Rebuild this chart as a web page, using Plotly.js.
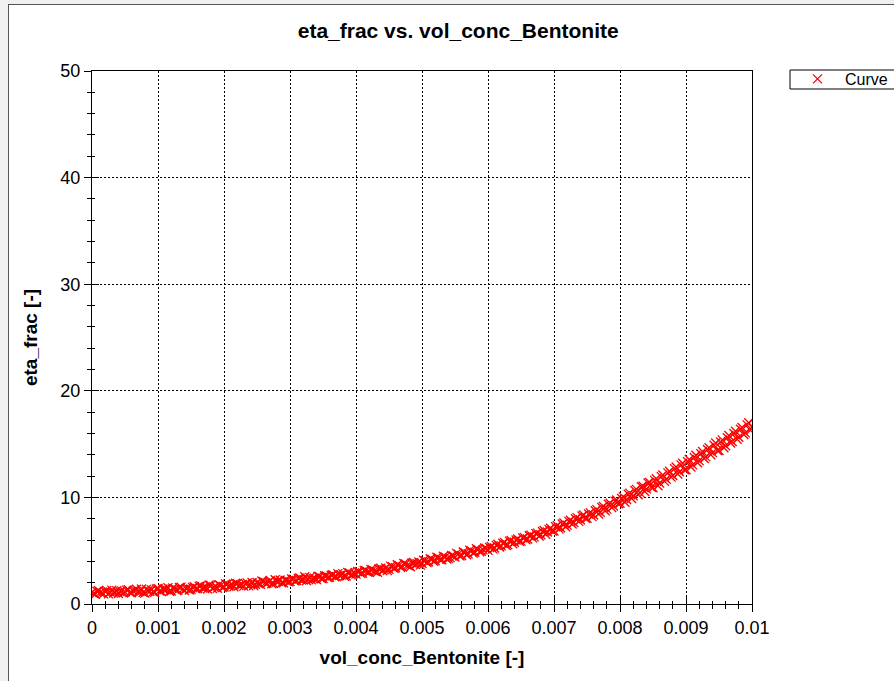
<!DOCTYPE html>
<html>
<head>
<meta charset="utf-8">
<script src="https://cdn.plot.ly/plotly-3.0.1.min.js"></script>
<style>
html,body{margin:0;padding:0;background:#f0f0f0;width:894px;height:681px;overflow:hidden;}
#frame{position:absolute;left:8px;top:4px;width:886px;height:677px;border-left:1px solid #555;border-top:1px solid #555;background:#fff;}
#chart{width:886px;height:677px;}
</style>
</head>
<body>
<div id="frame"><div id="chart"></div></div>
<script>
const chartTitle = "eta_frac vs. vol_conc_Bentonite";
const xTitle = "vol_conc_Bentonite [-]";
const yTitle = "eta_frac [-]";
const seriesName = "Curve";

const volConcA = [
0,0.00005,0.0001,0.00015,0.0002,0.00025,0.0003,0.00035,0.0004,0.00045,
0.0005,0.00055,0.0006,0.00065,0.0007,0.00075,0.0008,0.00085,0.0009,0.00095,
0.001,0.00105,0.0011,0.00115,0.0012,0.00125,0.0013,0.00135,0.0014,0.00145,
0.0015,0.00155,0.0016,0.00165,0.0017,0.00175,0.0018,0.00185,0.0019,0.00195,
0.002,0.00205,0.0021,0.00215,0.0022,0.00225,0.0023,0.00235,0.0024,0.00245,
0.0025,0.00255,0.0026,0.00265,0.0027,0.00275,0.0028,0.00285,0.0029,0.00295,
0.003,0.00305,0.0031,0.00315,0.0032,0.00325,0.0033,0.00335,0.0034,0.00345,
0.0035,0.00355,0.0036,0.00365,0.0037,0.00375,0.0038,0.00385,0.0039,0.00395,
0.004,0.00405,0.0041,0.00415,0.0042,0.00425,0.0043,0.00435,0.0044,0.00445,
0.0045,0.00455,0.0046,0.00465,0.0047,0.00475,0.0048,0.00485,0.0049,0.00495,
0.005,0.00505,0.0051,0.00515,0.0052,0.00525,0.0053,0.00535,0.0054,0.00545,
0.0055,0.00555,0.0056,0.00565,0.0057,0.00575,0.0058,0.00585,0.0059,0.00595,
0.006,0.00605,0.0061,0.00615,0.0062,0.00625,0.0063,0.00635,0.0064,0.00645,
0.0065,0.00655,0.0066,0.00665,0.0067,0.00675,0.0068,0.00685,0.0069,0.00695,
0.007,0.00705,0.0071,0.00715,0.0072,0.00725,0.0073,0.00735,0.0074,0.00745,
0.0075,0.00755,0.0076,0.00765,0.0077,0.00775,0.0078,0.00785,0.0079,0.00795,
0.008,0.00805,0.0081,0.00815,0.0082,0.00825,0.0083,0.00835,0.0084,0.00845,
0.0085,0.00855,0.0086,0.00865,0.0087,0.00875,0.0088,0.00885,0.0089,0.00895,
0.009,0.00905,0.0091,0.00915,0.0092,0.00925,0.0093,0.00935,0.0094,0.00945,
0.0095,0.00955,0.0096,0.00965,0.0097,0.00975,0.0098,0.00985,0.0099,0.00995,
0.01
];

const etaFracA = [
1.10,0.92,1.25,1.02,1.18,0.95,1.30,1.08,0.98,1.22,
1.12,1.35,1.05,1.28,1.15,1.40,1.02,1.25,1.33,1.10,
1.45,1.18,1.36,1.52,1.22,1.41,1.30,1.58,1.27,1.49,
1.38,1.62,1.45,1.70,1.52,1.40,1.75,1.58,1.48,1.72,
1.60,1.85,1.70,1.62,1.92,1.78,1.68,1.98,1.80,1.74,
2.02,1.85,2.10,1.95,2.20,1.92,2.08,2.25,2.00,2.18,
2.10,2.32,2.20,2.45,2.28,2.18,2.50,2.38,2.30,2.55,
2.40,2.62,2.50,2.75,2.58,2.68,2.85,2.62,2.92,2.78,
2.80,3.02,2.90,3.12,2.98,3.20,3.05,3.30,3.15,3.38,
3.25,3.50,3.40,3.62,3.48,3.75,3.58,3.85,3.70,3.95,
3.80,4.05,3.95,4.20,4.05,4.32,4.15,4.40,4.28,4.55,
4.40,4.68,4.55,4.82,4.70,4.98,4.85,5.10,4.95,5.25,
5.05,5.40,5.25,5.60,5.45,5.78,5.55,5.95,5.80,6.10,
5.90,6.25,6.10,6.45,6.30,6.65,6.50,6.90,6.75,7.10,
6.85,7.35,7.15,7.60,7.40,7.85,7.65,8.10,7.90,8.35,
8.05,8.55,8.35,8.85,8.60,9.15,8.90,9.45,9.20,9.75,
9.45,10.05,9.80,10.40,10.15,10.75,10.45,11.05,10.80,11.40,
10.90,11.75,11.35,12.10,11.70,12.45,12.05,12.85,12.40,13.20,
12.60,13.55,13.05,13.95,13.45,14.30,13.80,14.65,14.20,15.10,
14.40,15.40,14.85,15.80,15.25,16.20,15.65,16.55,16.05,17.00,
16.60
];

const volConcB = [
0.000025,0.000075,0.000125,0.000175,0.000225,0.000275,0.000325,0.000375,0.000425,0.000475,
0.000525,0.000575,0.000625,0.000675,0.000725,0.000775,0.000825,0.000875,0.000925,0.000975,
0.001025,0.001075,0.001125,0.001175,0.001225,0.001275,0.001325,0.001375,0.001425,0.001475,
0.001525,0.001575,0.001625,0.001675,0.001725,0.001775,0.001825,0.001875,0.001925,0.001975,
0.002025,0.002075,0.002125,0.002175,0.002225,0.002275,0.002325,0.002375,0.002425,0.002475,
0.002525,0.002575,0.002625,0.002675,0.002725,0.002775,0.002825,0.002875,0.002925,0.002975,
0.003025,0.003075,0.003125,0.003175,0.003225,0.003275,0.003325,0.003375,0.003425,0.003475,
0.003525,0.003575,0.003625,0.003675,0.003725,0.003775,0.003825,0.003875,0.003925,0.003975,
0.004025,0.004075,0.004125,0.004175,0.004225,0.004275,0.004325,0.004375,0.004425,0.004475,
0.004525,0.004575,0.004625,0.004675,0.004725,0.004775,0.004825,0.004875,0.004925,0.004975,
0.005025,0.005075,0.005125,0.005175,0.005225,0.005275,0.005325,0.005375,0.005425,0.005475,
0.005525,0.005575,0.005625,0.005675,0.005725,0.005775,0.005825,0.005875,0.005925,0.005975,
0.006025,0.006075,0.006125,0.006175,0.006225,0.006275,0.006325,0.006375,0.006425,0.006475,
0.006525,0.006575,0.006625,0.006675,0.006725,0.006775,0.006825,0.006875,0.006925,0.006975,
0.007025,0.007075,0.007125,0.007175,0.007225,0.007275,0.007325,0.007375,0.007425,0.007475,
0.007525,0.007575,0.007625,0.007675,0.007725,0.007775,0.007825,0.007875,0.007925,0.007975,
0.008025,0.008075,0.008125,0.008175,0.008225,0.008275,0.008325,0.008375,0.008425,0.008475,
0.008525,0.008575,0.008625,0.008675,0.008725,0.008775,0.008825,0.008875,0.008925,0.008975,
0.009025,0.009075,0.009125,0.009175,0.009225,0.009275,0.009325,0.009375,0.009425,0.009475,
0.009525,0.009575,0.009625,0.009675,0.009725,0.009775,0.009825,0.009875,0.009925,0.009975
];

const etaFracB = [
1.00,1.20,1.08,0.95,1.28,1.12,1.02,1.24,1.15,1.05,
1.30,1.08,1.22,1.38,1.18,1.08,1.36,1.20,1.14,1.42,
1.25,1.40,1.33,1.20,1.50,1.35,1.55,1.38,1.44,1.32,
1.55,1.42,1.66,1.50,1.60,1.78,1.46,1.65,1.80,1.55,
1.88,1.66,1.78,1.95,1.72,1.84,1.90,1.70,2.02,1.86,
1.92,2.15,1.98,2.05,1.90,2.28,2.12,2.00,2.22,2.08,
2.35,2.15,2.40,2.25,2.55,2.35,2.28,2.42,2.60,2.40,
2.65,2.48,2.70,2.55,2.85,2.72,2.60,2.95,2.75,2.88,
3.05,2.85,3.15,3.00,3.25,3.10,2.98,3.35,3.22,3.15,
3.55,3.35,3.68,3.45,3.80,3.62,3.50,3.90,3.78,3.65,
4.10,3.90,4.25,4.00,4.38,4.18,4.48,4.22,4.35,4.50,
4.75,4.50,4.88,4.62,5.05,4.78,5.18,4.90,5.08,5.22,
5.30,5.15,5.50,5.35,5.70,5.48,5.88,5.65,6.00,5.88,
6.20,6.02,6.40,6.20,6.60,6.38,6.80,6.55,7.00,6.85,
7.25,7.05,7.50,7.25,7.75,7.50,8.00,7.75,8.25,8.05,
8.45,8.20,8.75,8.45,9.05,8.75,9.35,9.05,9.65,9.40,
9.90,9.55,10.30,9.90,10.65,10.25,11.00,10.55,11.35,10.95,
11.60,11.10,11.95,11.50,12.30,11.90,12.70,12.20,13.05,12.60,
13.35,12.85,13.75,13.25,14.10,13.65,14.50,14.00,14.90,14.40,
15.20,14.65,15.60,15.10,16.00,15.45,16.40,15.90,16.80,16.30
];

const xRange = [0, 0.01];
const yRange = [0, 50];

const FONT = '"Liberation Sans", Arial, sans-serif';
const RED = '#ff0000';

const mk = {symbol: 'x-thin-open', size: 9, color: RED, line: {color: RED, width: 1.3}};
const traces = [
  {x: volConcA, y: etaFracA, type: 'scatter', mode: 'markers', name: seriesName, marker: mk, legendgroup: 'c'},
  {x: volConcB, y: etaFracB, type: 'scatter', mode: 'markers', name: seriesName, marker: mk, legendgroup: 'c', showlegend: false},
  {x: [null], y: [null], xaxis: 'x2', yaxis: 'y2', type: 'scatter', mode: 'markers', showlegend: false, hoverinfo: 'skip'}
];

const axisCommon = {
  showline: true, mirror: true, linecolor: '#000', linewidth: 1,
  showgrid: true, gridcolor: '#000', gridwidth: 1, griddash: '2px,2px',
  zeroline: false, ticks: 'outside', ticklen: 7, tickcolor: '#000', tickwidth: 1,
  tickfont: {family: FONT, size: 18, color: '#000'},
  fixedrange: true
};
const innerAxis = {
  showline: false, showgrid: false, zeroline: false, showticklabels: false,
  ticks: 'inside', ticklen: 7, tickcolor: '#000', tickwidth: 1, fixedrange: true
};

// plot area pixel geometry (inside the chart div)
const PL = 83, PT = 66, PW = 660, PH = 533;
const px2x = p => (p - PL) / PW;
const py2y = p => 1 - (p - PT) / PH;

const layout = {
  width: 886, height: 677,
  paper_bgcolor: '#fff', plot_bgcolor: '#fff',
  font: {family: FONT, color: '#000'},
  margin: {l: PL, r: 886 - PL - PW, t: PT, b: 677 - PT - PH, autoexpand: false},
  title: {text: '<b>' + chartTitle + '</b>', font: {family: FONT, size: 21, color: '#000'},
          x: 0.507, xref: 'container', xanchor: 'center', y: 1 - 26/677, yref: 'container', yanchor: 'middle'},
  xaxis: Object.assign({}, axisCommon, {
    range: xRange, dtick: 0.001, tick0: 0,
    minor: {dtick: 0.0002, ticks: 'outside', ticklen: 4, tickcolor: '#000', showgrid: false},
    title: {text: '<b>' + xTitle + '</b>', font: {family: FONT, size: 19, color: '#000'}, standoff: 14}
  }),
  yaxis: Object.assign({}, axisCommon, {
    range: yRange, dtick: 10, tick0: 0,
    minor: {dtick: 2, ticks: 'outside', ticklen: 4, tickcolor: '#000', showgrid: false},
    title: {text: '<b>' + yTitle + '</b>', font: {family: FONT, size: 19, color: '#000'}, standoff: 17}
  }),
  xaxis2: Object.assign({}, innerAxis, {
    range: xRange, dtick: 0.001, tick0: 0, overlaying: 'x', anchor: 'y2', side: 'bottom',
    minor: {dtick: 0.0002, ticks: 'inside', ticklen: 3, tickcolor: '#000', showgrid: false}
  }),
  yaxis2: Object.assign({}, innerAxis, {
    range: yRange, dtick: 10, tick0: 0, overlaying: 'y', anchor: 'x2', side: 'left',
    minor: {dtick: 2, ticks: 'inside', ticklen: 3, tickcolor: '#000', showgrid: false}
  }),
  shapes: [
    {type: 'rect', xref: 'paper', yref: 'paper', layer: 'above',
     x0: px2x(781), x1: px2x(900), y0: py2y(84), y1: py2y(65),
     line: {color: '#000', width: 1}, fillcolor: 'rgba(0,0,0,0)'}
  ],
  showlegend: true,
  legend: {x: px2x(781), xanchor: 'left', y: py2y(57), yanchor: 'top',
           bgcolor: 'rgba(0,0,0,0)', borderwidth: 0, itemwidth: 45,
           font: {family: FONT, size: 16, color: '#000'}, tracegroupgap: 0}
};

Plotly.newPlot('chart', traces, layout, {displayModeBar: false, staticPlot: true});
</script>
</body>
</html>
